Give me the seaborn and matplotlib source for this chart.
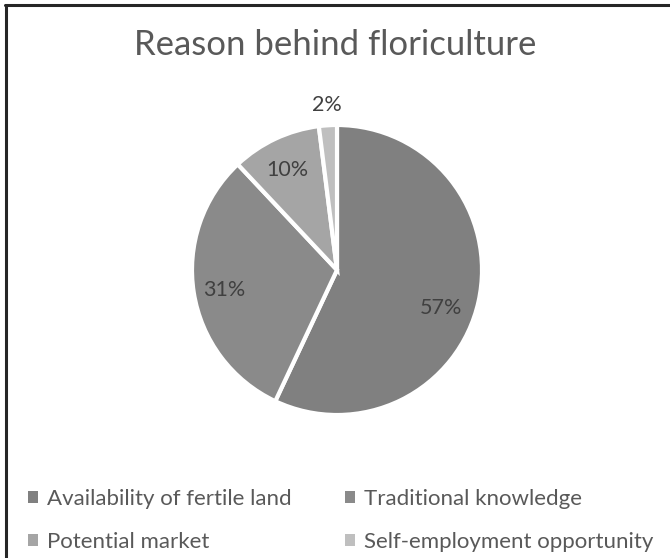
import numpy as np
import matplotlib
matplotlib.use("Agg")
import matplotlib.pyplot as plt
from matplotlib.lines import Line2D
from matplotlib.patches import Patch
import seaborn as sns

categories = ["Availability of fertile land", "Traditional knowledge",
              "Potential market", "Self-employment opportunity"]
values = [57, 31, 10, 2]
colors = ["#808080", "#8a8a8a", "#a5a5a5", "#bfbfbf"]
title = "Reason behind floriculture"

sns.set_theme(style="white")
plt.rcParams["font.family"] = ["Lato", "DejaVu Sans"]

W, H = 670, 558
fig = plt.figure(figsize=(W / 100, H / 100), dpi=100)
fig.patch.set_facecolor("white")

cx, cy, r = 337, 270, 145
ax = fig.add_axes([(cx - r) / W, (H - cy - r) / H, 2 * r / W, 2 * r / H])
wedges, _ = ax.pie(values, colors=colors, startangle=90, counterclock=False,
                   wedgeprops=dict(edgecolor="white", linewidth=3))
ax.set_xlim(-1, 1)
ax.set_ylim(-1, 1)
ax.set_aspect("equal")
ax.axis("off")

label_r = [0.76, 0.79, 0.77, 1.14]
angle_off = [-7.5, 1, 1, 0]
for w, v, lr, ao in zip(wedges, values, label_r, angle_off):
    mid = np.deg2rad((w.theta1 + w.theta2) / 2 + ao)
    ax.text(lr * np.cos(mid), lr * np.sin(mid), f"{v}%", ha="center", va="center",
            fontsize=15.5, color="#404040", clip_on=False)

fig.text(0.5, 1 - 45 / H, title, ha="center", va="center", fontsize=25, color="#595959")

# row-major legend order for 2 columns
order = [0, 2, 1, 3]
handles = [Patch(facecolor=colors[i], edgecolor="none") for i in order]
labels = [categories[i] for i in order]
leg = fig.legend(handles, labels, loc="upper left", ncol=2,
                 bbox_to_anchor=(10 / W, 1 - 471 / H), frameon=False,
                 fontsize=16, labelcolor="#595959", handlelength=0.45,
                 handleheight=0.45, handletextpad=0.4, labelspacing=1.03,
                 columnspacing=2.4, borderpad=0.3)

# frame lines (top and left)
fig.add_artist(Line2D([5 / W, 1], [1 - 5 / H, 1 - 5 / H], color="#262626", lw=2.2,
                      transform=fig.transFigure))
fig.add_artist(Line2D([6 / W, 6 / W], [0, 1 - 5 / H], color="#262626", lw=2.2,
                      transform=fig.transFigure))

fig.savefig("out.png", dpi=100, facecolor="white")
